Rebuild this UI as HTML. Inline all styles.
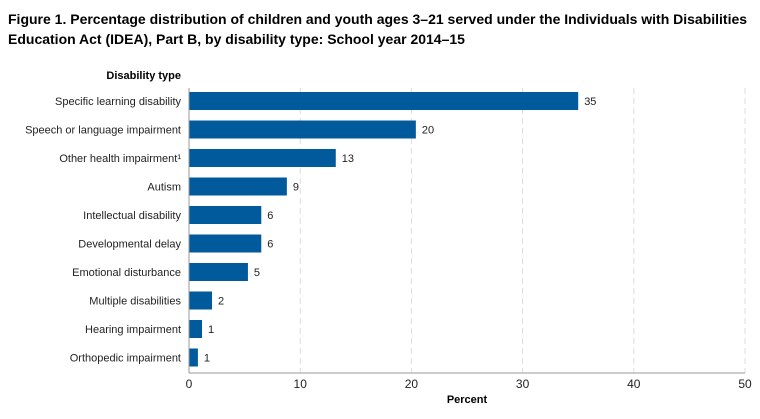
<!DOCTYPE html>
<html><head><meta charset="utf-8"><style>
body{margin:0;background:#fff;width:760px;height:419px;overflow:hidden;font-family:"Liberation Sans",Arial,sans-serif}
#title{position:absolute;left:8px;top:9px;font-size:14px;font-weight:bold;color:#000;line-height:20px;width:750px}
svg{position:absolute;left:0;top:0}
</style></head><body>
<div id="title">Figure 1. Percentage distribution of children and youth ages 3–21 served under the Individuals with Disabilities Education Act (IDEA), Part B, by disability type: School year 2014–15</div>
<svg id="chart" width="760" height="419"></svg>
<script>
const categories=["Specific learning disability","Speech or language impairment","Other health impairment\u00B9","Autism","Intellectual disability","Developmental delay","Emotional disturbance","Multiple disabilities","Hearing impairment","Orthopedic impairment"];
const values=[35,20.4,13.2,8.8,6.5,6.5,5.3,2.07,1.17,0.8];
const valueLabels=["35","20","13","9","6","6","5","2","1","1"];
const ticks=[0,10,20,30,40,50];
const svg=document.getElementById('chart');
const NS='http://www.w3.org/2000/svg';
const x0=189,xs=11.12,yTop=101,step=28.5,bh=18,axisY=373;
const X=v=>x0+v*xs, Y=i=>yTop+i*step;
function mk(t,a,txt){const e=document.createElementNS(NS,t);for(const k in a)e.setAttribute(k,a[k]);if(txt!==undefined)e.textContent=txt;svg.appendChild(e);return e;}
ticks.forEach(t=>{
 if(t>0){const g=mk('line',{x1:X(t),x2:X(t),y1:88,y2:axisY,stroke:'#ddd','stroke-dasharray':'6,4'});
 
 }
 const l=mk('text',{x:X(t),y:axisY+15,'text-anchor':'middle','font-size':12,fill:'#222'},t);
 
 
});
categories.forEach((c,i)=>{
 const r=mk('rect',{x:x0,y:Y(i)-bh/2,width:X(values[i])-x0,height:bh,fill:'#005a9c'});
 
 
 const v=mk('text',{x:X(values[i])+6,y:Y(i)+4,'font-size':11,fill:'#222'},valueLabels[i]);
 
 
 const t=mk('text',{x:181,y:Y(i)+4,'text-anchor':'end','font-size':11,fill:'#222'},c);
 
 
});
const ax=mk('line',{x1:x0,x2:X(50),y1:axisY,y2:axisY,stroke:'#999'});


const ay=mk('line',{x1:x0,x2:x0,y1:88,y2:axisY,stroke:'#999'});


const yt=mk('text',{x:181,y:79,'text-anchor':'end','font-size':11,'font-weight':'bold',fill:'#000'},'Disability type');


const xt=mk('text',{x:467,y:403,'text-anchor':'middle','font-size':11,'font-weight':'bold',fill:'#000'},'Percent');


</script>
</body></html>
